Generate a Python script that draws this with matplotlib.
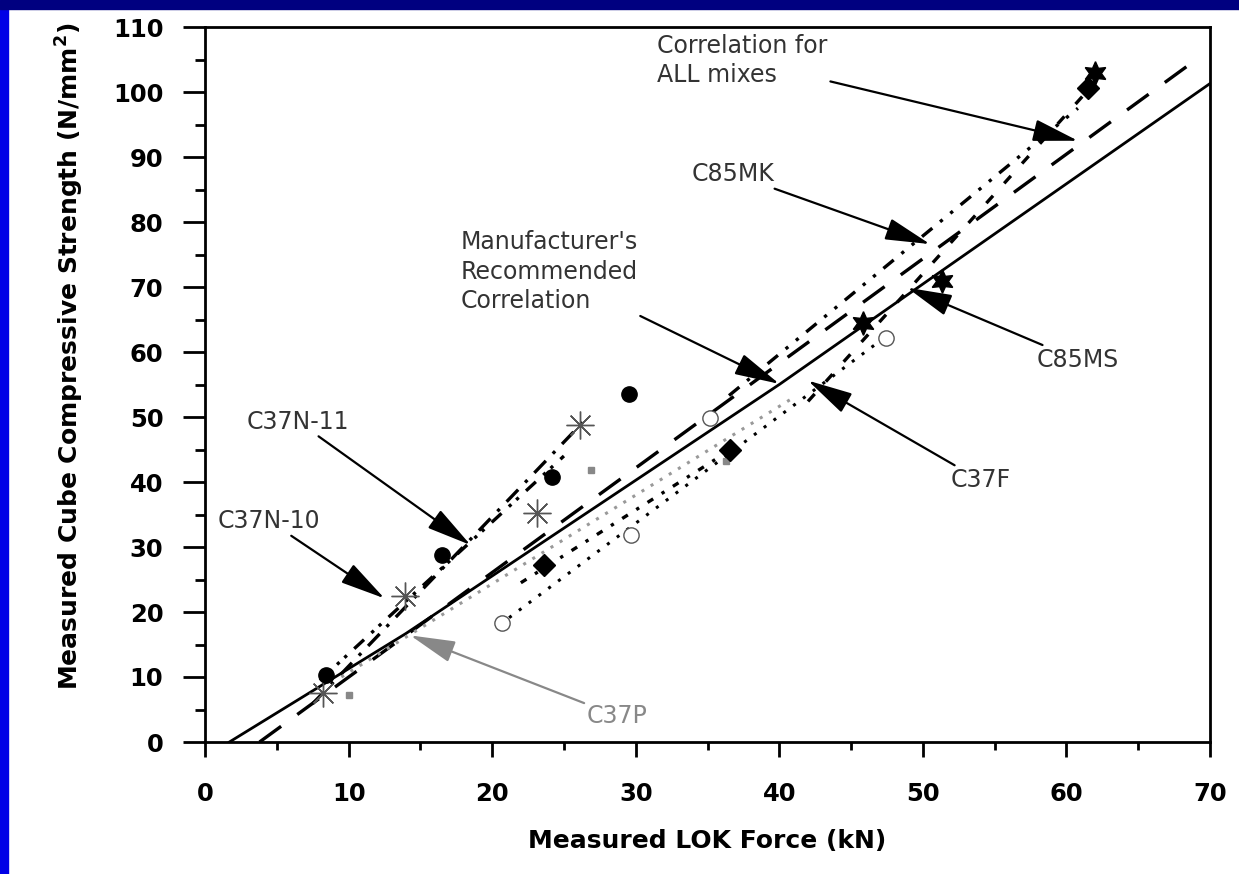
import numpy as np
import matplotlib.pyplot as plt
from matplotlib.patches import Rectangle
from matplotlib.ticker import MultipleLocator

plt.rcParams['font.family'] = ['DejaVu Sans']

# manufacturer's recommended correlation (solid)
maker_x = [1.7, 14.0, 40.0, 51.0, 70.0]
maker_y = [0.0, 16.7, 55.0, 72.0, 101.3]
# correlation for all mixes (long dash)
all_x = [3.8, 68.8]
all_y = [0.0, 104.6]

# measured points per mix
ast_x = [8.2, 13.9, 23.1, 26.1]
ast_y = [7.5, 22.4, 35.2, 48.7]
dot_x = [8.4, 16.5, 24.2, 29.5]
dot_y = [10.3, 28.7, 40.7, 53.6]
sq_x = [10.0, 26.9, 36.3]
sq_y = [7.3, 41.9, 43.3]
oc_x = [20.7, 29.7, 35.2, 47.4]
oc_y = [18.3, 31.8, 49.8, 62.1]
dia_x = [23.6, 36.6, 61.5]
dia_y = [27.2, 44.9, 100.6]
star_x = [45.8, 51.3, 62.0]
star_y = [64.5, 71.0, 103.0]

# fitted lines per mix
n10_x = [7.5, 26.5]
n10_y = [5.9, 49.6]
n11_x = [8.0, 25.0]
n11_y = [9.5, 44.0]
p_x = [9.5, 41.0]
p_y = [10.0, 53.0]
f_x = [20.5, 47.5]
f_y = [18.0, 62.5]
dia_fit_x = [22.0, 37.0]
dia_fit_y = [24.5, 45.5]
mk_x = [36.5, 60.8]
mk_y = [53.3, 97.5]
ms_x = [42.0, 62.0]
ms_y = [52.4, 101.5]

fig = plt.figure(figsize=(12.39, 8.74), dpi=100)
fig.patches.append(Rectangle((0, 0), 8 / 1239, 1, transform=fig.transFigure, color='#0000e6', zorder=0))
fig.patches.append(Rectangle((0, 1 - 9 / 874), 1, 9 / 874, transform=fig.transFigure, color='#000080', zorder=0))
    # blue slide frame on top and left

ax = fig.add_axes([205 / 1239, 1 - 742 / 874, 1005 / 1239, 715 / 874])

ax.plot(maker_x, maker_y, color='black', lw=2)
ax.plot(all_x, all_y, color='black', lw=2.4, linestyle=(0, (8, 6)))
ax.plot(n10_x, n10_y, color='black', lw=2.4, linestyle=(0, (5, 3, 1, 3)))
ax.plot(n11_x, n11_y, color='black', lw=2.4, linestyle=(0, (4, 3, 1, 2, 1, 3)))
ax.plot(p_x, p_y, color='#999999', lw=2.2, linestyle=(0, (1, 2.5)))
ax.plot(f_x, f_y, color='black', lw=2.2, linestyle=(0, (1, 3)))
ax.plot(dia_fit_x, dia_fit_y, color='black', lw=2.4, linestyle=(0, (2, 3, 1, 3)))
ax.plot(mk_x, mk_y, color='black', lw=2.4, linestyle=(0, (4, 3, 1, 3, 1, 3)))
ax.plot(ms_x, ms_y, color='black', lw=2.4, linestyle=(0, (3, 5)))
    # fitted lines

ax.plot(ast_x, ast_y, linestyle='none', marker=(8, 2, 0), ms=20, mec='#555555', mew=1)
ax.plot(dot_x, dot_y, linestyle='none', marker='o', ms=11, color='black')
ax.plot(sq_x, sq_y, linestyle='none', marker='s', ms=5, color='#888888')
ax.plot(oc_x, oc_y, linestyle='none', marker='o', ms=11, mfc='white', mec='#555555', mew=1)
ax.plot(dia_x, dia_y, linestyle='none', marker='D', ms=11, color='black')
ax.plot(star_x, star_y, linestyle='none', marker=(6, 1, 0), ms=17, color='black')
    # measured points

arrow = dict(arrowstyle='-|>,head_length=1.4,head_width=0.34', color='black', lw=1.6,
             mutation_scale=20, shrinkA=0, shrinkB=0)
text_kw = dict(fontsize=17, color='#333333', linespacing=1.3)
ax.annotate('Correlation for\nALL mixes', xy=(60.8, 92.5), xytext=(31.5, 109.0),
            va='top', ha='left', arrowprops=arrow, **text_kw)
ax.annotate('C85MK', xy=(50.5, 76.6), xytext=(33.9, 87.4),
            va='center', ha='left', arrowprops=arrow, **text_kw)
ax.annotate("Manufacturer's\nRecommended\nCorrelation", xy=(40.0, 55.1), xytext=(17.8, 78.8),
            va='top', ha='left', arrowprops=arrow, **text_kw)
ax.annotate('C85MS', xy=(48.9, 69.9), xytext=(57.9, 58.8),
            va='center', ha='left', arrowprops=arrow, **text_kw)
ax.annotate('C37F', xy=(42.0, 55.6), xytext=(51.9, 40.3),
            va='center', ha='left', arrowprops=arrow, **text_kw)
ax.annotate('C37N-11', xy=(18.5, 30.3), xytext=(2.9, 49.3),
            va='center', ha='left', arrowprops=arrow, **text_kw)
ax.annotate('C37N-10', xy=(12.5, 22.1), xytext=(0.9, 34.0),
            va='center', ha='left', arrowprops=arrow, **text_kw)
grey_arrow = dict(arrow, color='#888888')
ax.annotate('C37P', xy=(14.3, 16.4), xytext=(26.6, 4.0),
            va='center', ha='left', arrowprops=grey_arrow, fontsize=17, color='#888888')
    # labels with arrows

ax.set_xlim(0, 70)
ax.set_ylim(0, 110)
ax.xaxis.set_major_locator(MultipleLocator(10))
ax.xaxis.set_minor_locator(MultipleLocator(5))
ax.yaxis.set_major_locator(MultipleLocator(10))
ax.yaxis.set_minor_locator(MultipleLocator(5))
ax.tick_params(axis='both', which='both', direction='out', width=2, labelsize=17.5)
ax.tick_params(axis='x', which='major', length=11, pad=18)
ax.tick_params(axis='x', which='minor', length=6)
ax.tick_params(axis='y', which='major', length=16, pad=14)
ax.tick_params(axis='y', which='minor', length=7)
for lab in ax.get_xticklabels() + ax.get_yticklabels():
    lab.set_fontweight('bold')
for s in ax.spines.values():
    s.set_linewidth(2)
    # axes and ticks

ax.set_xlabel('Measured LOK Force (kN)', fontsize=18, fontweight='bold')
ax.xaxis.set_label_coords(0.5, -0.122)
ax.set_ylabel(r'Measured Cube Compressive Strength (N/mm$^{\mathbf{2}}$)', fontsize=18,
              fontweight='bold')
ax.yaxis.set_label_coords(-0.118, 0.54)
    # axis titles

fig.savefig('out.png', dpi=100)
